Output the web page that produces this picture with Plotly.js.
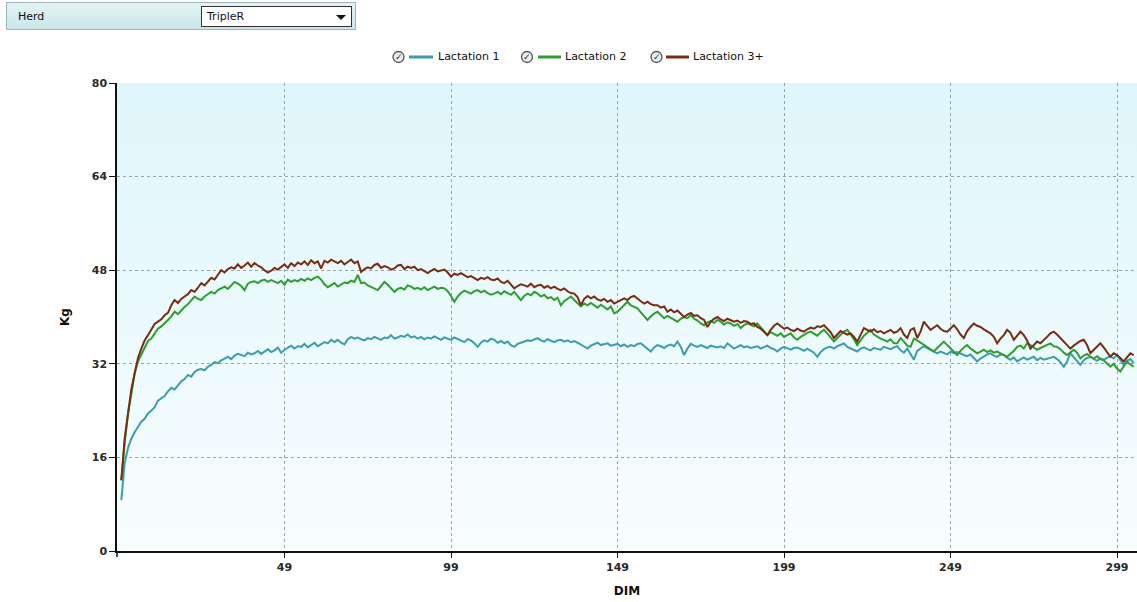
<!DOCTYPE html>
<html>
<head>
<meta charset="utf-8">
<script src="https://cdn.plot.ly/plotly-3.0.1.min.js"></script>
<style>
  html, body { margin:0; padding:0; background:#ffffff; }
  #wrap { position:relative; width:1137px; height:602px; overflow:hidden; }
  #chart { position:absolute; left:0; top:0; width:1137px; height:602px; }
  #hdr { position:absolute; left:6px; top:2px; width:350px; height:28px; box-sizing:border-box;
         border:1px solid #9fb4b8; background:linear-gradient(#e2f3f5,#cbe6ea); z-index:5;
         font-family:"DejaVu Sans", Verdana, sans-serif; font-size:11px; color:#111; }
  #hdr .lbl { position:absolute; left:11px; top:7px; }
  #hdr .sel { position:absolute; left:194px; top:3px; width:151px; height:21px; box-sizing:border-box;
              background:#fff; border:1px solid #333; }
  #hdr .sel span { position:absolute; left:5px; top:3px; }
  #hdr .arr { position:absolute; right:5px; top:8px; width:0; height:0;
              border-left:5px solid transparent; border-right:5px solid transparent; border-top:5px solid #111; }
</style>
</head>
<body>
<div id="wrap">
  <div id="chart"></div>
  <div id="hdr"><div class="lbl">Herd</div><div class="sel"><span>TripleR</span><div class="arr"></div></div></div>
</div>
<script>
// ---- data (Kg by day in milk, DIM 0..304) ----
const seriesNames = ["Lactation 1", "Lactation 2", "Lactation 3+"];
const xTicks = [49, 99, 149, 199, 249, 299];
const yTicks = [0, 16, 32, 48, 64, 80];

const lact1 = [
8.7,15.0,17.6,19.2,20.3,21.2,22.1,22.6,23.5,24.0,
24.6,25.7,26.1,26.5,27.3,27.9,27.6,28.4,29.0,29.4,
30.1,29.8,30.6,31.0,31.1,30.9,31.5,31.8,32.3,32.1,
32.6,32.9,33.2,32.8,33.4,33.7,33.5,33.3,33.9,33.6,
33.8,34.2,33.7,34.1,34.5,34.0,34.3,34.8,33.9,34.4,
34.7,35.1,34.6,35.0,34.9,35.4,34.8,35.2,35.6,35.0,
35.3,35.7,35.5,36.1,35.7,36.1,35.6,35.3,36.2,36.6,
36.3,36.5,36.2,36.0,36.4,36.2,36.6,36.3,36.1,36.5,
36.4,36.9,36.3,36.5,36.8,36.6,37.0,36.5,36.7,36.3,
36.6,36.2,36.5,36.3,36.7,36.4,36.1,36.5,36.3,36.1,
36.5,36.2,36.0,35.7,36.2,36.0,35.5,34.9,35.6,36.0,
35.8,36.3,36.1,35.6,35.9,35.5,35.8,35.2,34.9,35.4,
35.6,35.8,36.0,35.9,36.2,36.4,36.0,35.8,36.2,35.9,
35.7,36.0,36.1,35.8,36.0,35.7,35.9,35.6,35.3,35.0,
34.6,35.1,35.3,35.6,35.2,35.4,35.5,35.1,35.2,35.4,
35.0,35.3,34.9,35.2,35.0,35.4,35.5,35.0,34.6,34.1,
34.8,35.2,35.0,34.7,35.1,35.3,35.0,35.8,34.9,33.5,
34.6,35.4,35.1,34.9,35.2,35.0,34.7,35.1,34.9,34.8,
35.0,34.7,35.5,35.0,34.6,34.9,35.2,34.8,35.0,34.7,
34.9,35.0,34.6,34.8,35.1,34.7,34.5,34.1,34.6,34.9,
34.6,34.4,34.7,34.8,34.5,34.2,34.6,34.3,33.9,33.2,
34.0,34.5,34.8,34.9,34.6,35.0,35.3,35.5,34.9,34.6,
34.4,34.1,34.6,34.8,34.5,34.3,34.7,34.6,34.4,34.9,
34.7,34.5,34.8,35.0,34.3,33.9,34.6,33.6,32.7,34.2,
34.6,35.0,34.7,34.4,34.0,33.8,34.1,33.9,33.6,34.1,
33.8,34.0,33.7,33.5,33.3,33.6,33.0,32.4,32.9,33.3,
33.6,33.8,33.4,33.2,33.6,33.5,33.0,32.7,33.1,32.4,
32.8,33.1,32.7,32.9,33.2,32.6,33.0,32.7,32.9,33.1,
33.2,32.8,32.3,31.5,32.4,33.8,33.1,32.5,31.8,32.6,
33.0,33.2,32.8,32.5,32.9,32.7,33.0,33.3,32.9,33.5,
32.6,31.8,32.5,32.8,32.1];

const lact2 = [
12.1,18.5,23.4,27.2,30.3,32.4,33.6,34.8,35.9,36.3,
37.2,38.0,38.4,38.9,39.5,40.1,40.9,40.5,41.2,41.7,
42.2,42.8,43.5,43.1,42.9,43.5,43.9,44.3,44.0,44.6,
44.9,45.2,44.8,45.5,46.0,45.7,45.3,44.6,45.7,46.0,
46.1,45.8,46.2,46.4,46.0,46.3,46.1,45.8,46.2,45.5,
46.4,46.0,46.3,46.1,46.5,46.2,46.6,46.3,46.7,46.9,
46.4,45.6,45.1,45.5,45.8,45.2,45.6,45.9,45.8,46.2,
46.0,47.2,45.8,45.9,45.4,45.1,44.9,44.6,45.3,46.0,
45.5,44.9,44.3,44.8,45.0,44.7,45.4,45.2,44.8,45.0,
44.7,45.1,44.6,44.9,45.2,44.8,45.0,44.9,44.4,43.6,
42.6,43.5,44.1,44.5,44.3,44.0,44.4,44.6,44.2,44.5,
44.1,43.8,44.0,44.3,43.9,44.4,44.1,43.8,44.3,43.6,
42.9,43.6,44.0,43.7,44.3,44.0,43.5,43.8,43.2,43.4,
42.9,43.3,42.0,42.7,43.1,43.5,42.9,42.4,41.8,42.3,
42.0,42.4,42.0,41.6,42.1,41.7,41.3,41.8,40.6,40.9,
41.5,42.1,42.6,42.0,41.8,41.5,40.8,40.2,39.5,40.1,
40.6,40.9,40.3,39.8,40.2,39.9,39.6,39.2,39.7,40.0,
39.8,40.3,39.7,39.4,38.9,38.6,39.1,39.3,39.0,39.5,
39.2,38.7,39.1,38.9,38.5,38.8,38.1,38.6,38.9,38.7,
38.4,38.9,38.2,37.6,36.9,37.4,37.1,36.8,37.2,36.6,
36.9,37.2,36.5,36.1,36.6,37.0,37.3,37.5,37.1,36.8,
37.4,37.8,37.2,36.5,35.8,36.4,37.0,37.5,37.8,37.1,
36.2,35.2,36.1,36.8,37.3,37.8,37.0,36.6,36.3,36.1,
35.8,36.2,35.5,35.5,36.4,35.8,35.1,34.9,36.3,36.0,
35.6,35.2,34.8,34.5,34.1,34.7,35.3,35.8,35.2,34.6,
34.0,33.5,34.2,34.8,35.2,34.6,34.2,33.8,34.1,34.4,
34.0,34.3,33.9,34.1,33.8,33.5,33.2,33.7,34.2,34.9,
35.1,34.6,35.5,35.2,34.8,34.4,34.7,35.0,35.3,35.5,
35.0,34.9,34.5,33.9,33.5,34.0,34.4,33.9,32.9,33.4,
33.7,33.2,32.9,33.3,32.8,32.6,32.1,31.5,32.0,31.2,
30.7,31.6,32.4,31.9,31.5];

const lact3 = [
12.1,19.2,23.5,27.6,30.4,33.0,34.6,36.0,36.9,37.9,
38.8,39.2,39.6,40.3,40.7,42.0,42.9,42.4,43.1,43.5,
43.9,44.6,44.3,45.0,45.8,45.4,46.0,46.7,46.4,47.2,
48.0,47.6,48.2,48.5,48.3,49.0,48.4,48.8,49.3,48.6,
49.2,48.8,48.5,48.0,47.6,47.9,48.4,48.1,48.6,49.0,
48.4,49.2,48.7,49.3,49.0,49.5,48.9,49.7,49.2,49.5,
48.3,49.6,49.3,49.8,49.5,49.2,49.6,49.0,49.4,49.8,
49.2,49.5,47.7,48.2,48.5,48.3,48.9,49.1,48.4,48.7,
48.5,48.1,48.3,48.8,48.9,48.2,48.6,48.4,48.6,48.0,
48.2,47.8,47.5,47.9,48.2,47.8,48.0,48.1,47.6,46.9,
47.4,47.2,47.5,47.2,46.8,47.0,46.6,46.3,46.7,46.5,
46.8,46.4,46.3,46.6,46.0,45.8,46.2,45.6,44.9,45.3,
45.6,45.4,45.2,45.7,45.1,45.4,45.5,45.0,45.3,44.9,
45.2,44.8,44.6,44.9,44.4,44.1,44.0,43.4,42.0,43.1,
43.6,43.2,43.5,43.0,42.8,43.1,42.6,42.9,42.3,42.6,
42.9,43.2,42.9,43.4,43.6,43.1,42.7,42.3,42.6,42.2,
42.0,42.0,41.6,41.8,40.9,41.3,40.8,41.1,40.5,40.0,
40.4,40.7,40.2,40.3,39.8,39.5,38.3,39.2,39.7,40.0,
39.6,39.3,39.7,39.5,39.2,39.4,39.0,39.3,39.2,38.8,
38.9,38.3,38.0,37.5,36.9,37.8,38.5,38.9,38.4,38.0,
38.2,37.8,37.6,38.0,37.7,37.5,37.9,38.2,38.0,38.4,
38.3,38.6,38.0,37.4,36.4,37.0,37.6,37.3,37.0,37.2,
36.6,35.8,37.0,38.1,37.8,37.5,37.9,37.4,37.6,37.2,
37.5,37.8,37.3,37.5,38.1,37.0,36.4,37.8,38.1,36.4,
37.5,39.2,38.5,37.8,38.2,38.6,38.0,37.6,37.5,38.0,
38.6,37.9,37.0,36.4,37.6,38.3,38.9,38.5,38.3,37.9,
37.5,37.2,36.6,35.5,36.3,36.9,37.8,37.3,36.1,36.8,
37.5,36.9,36.0,34.6,35.2,35.8,35.5,36.0,36.6,37.2,
37.5,37.0,36.4,35.8,35.2,34.6,35.1,35.5,35.9,36.1,
35.2,33.8,34.4,35.0,35.5,34.8,34.0,33.2,33.8,33.5,
33.0,32.4,33.1,33.8,33.5];

const seriesValues = [lact1, lact2, lact3];
const seriesColors = ["#3d9dab", "#2f9e2f", "#7a2c12"];

// ---- geometry ----
const W = 1137, H = 602;
const M = {l:117, r:0, t:83, b:51};
const PW = W - M.l - M.r, PH = H - M.t - M.b;
const px2paperX = px => (px - M.l) / PW;
const py2paperY = py => (H - M.b - py) / PH;

const traces = seriesValues.map((vals, i) => ({
  type: "scatter", mode: "lines",
  name: seriesNames[i],
  x: vals.map((_, d) => d),
  y: vals,
  line: {color: seriesColors[i], width: 2},
  hoverinfo: "x+y+name",
  showlegend: false
}));

// background gradient image
const gradSvg = "<svg xmlns='http://www.w3.org/2000/svg' width='10' height='100' preserveAspectRatio='none'>" +
  "<defs><linearGradient id='g' x1='0' y1='0' x2='0' y2='1'>" +
  "<stop offset='0' stop-color='#def6fb'/><stop offset='1' stop-color='#f8fdfe'/></linearGradient></defs>" +
  "<rect width='10' height='100' fill='url(#g)'/></svg>";
const gradUri = "data:image/svg+xml;charset=utf-8," + encodeURIComponent(gradSvg);

// custom legend (check icon + line + label)
const legendItems = [
  {icon: 398.5, l0: 409, l1: 433, tx: 436},
  {icon: 527, l0: 538, l1: 561, tx: 563},
  {icon: 656.5, l0: 666, l1: 689, tx: 691}
];
const legY = 57;
const shapes = [], annotations = [];
legendItems.forEach((it, i) => {
  shapes.push({type: "circle", xref: "paper", yref: "paper",
    xsizemode: "pixel", ysizemode: "pixel",
    xanchor: px2paperX(it.icon), yanchor: py2paperY(legY),
    x0: -5.5, x1: 5.5, y0: -5.5, y1: 5.5,
    line: {color: "#4a5458", width: 1.3}, fillcolor: "#e6eef1"});
  shapes.push({type: "line", xref: "paper", yref: "paper",
    x0: px2paperX(it.l0), x1: px2paperX(it.l1), y0: py2paperY(legY), y1: py2paperY(legY),
    line: {color: seriesColors[i], width: 3}});
  annotations.push({xref: "paper", yref: "paper", x: px2paperX(it.icon), y: py2paperY(legY) + 0.001,
    text: "<b>✓</b>", showarrow: false, xanchor: "center", yanchor: "middle",
    font: {family: "DejaVu Sans", size: 9, color: "#1e2a2e"}});
  annotations.push({xref: "paper", yref: "paper", x: px2paperX(it.tx), y: py2paperY(legY),
    text: seriesNames[i], showarrow: false, xanchor: "left", yanchor: "middle",
    font: {family: "DejaVu Sans", size: 11, color: "#111"}});
});
// small extension of the y axis line below the x axis
shapes.push({type: "line", xref: "paper", yref: "paper", x0: 0, x1: 0,
  y0: 0, y1: -6 / PH, line: {color: "#111", width: 1.5}});

const axisFont = {family: "DejaVu Sans", size: 11, color: "#2a2a2a", weight: "bold"};
const layout = {
  width: W, height: H,
  margin: M,
  paper_bgcolor: "#ffffff",
  plot_bgcolor: "rgba(0,0,0,0)",
  showlegend: false,
  images: [{source: gradUri, xref: "paper", yref: "paper", x: 0, y: 1, sizex: 1, sizey: 1,
            xanchor: "left", yanchor: "top", sizing: "stretch", layer: "below"}],
  xaxis: {
    range: [-1.3, 305], tickmode: "array", tickvals: xTicks, ticktext: xTicks.map(String),
    showgrid: true, gridcolor: "#9aa4a8", griddash: "3px,3px", gridwidth: 1,
    zeroline: false, showline: true, linecolor: "#111", linewidth: 1.5,
    ticks: "outside", ticklen: 5, tickcolor: "#111", tickfont: axisFont,
    title: {text: "<b>DIM</b>", font: {family: "DejaVu Sans", size: 12, color: "#111"}, standoff: 14}
  },
  yaxis: {
    range: [0, 80], tickmode: "array", tickvals: yTicks, ticktext: yTicks.map(String),
    showgrid: true, gridcolor: "#9aa4a8", griddash: "3px,3px", gridwidth: 1,
    zeroline: false, showline: true, linecolor: "#111", linewidth: 1.5,
    ticks: "outside", ticklen: 6, tickcolor: "#111", tickfont: axisFont,
    title: {text: "<b>Kg</b>", font: {family: "DejaVu Sans", size: 12, color: "#111"}, standoff: 20}
  },
  shapes: shapes,
  annotations: annotations
};

Plotly.newPlot("chart", traces, layout, {displayModeBar: false});
</script>
</body>
</html>
